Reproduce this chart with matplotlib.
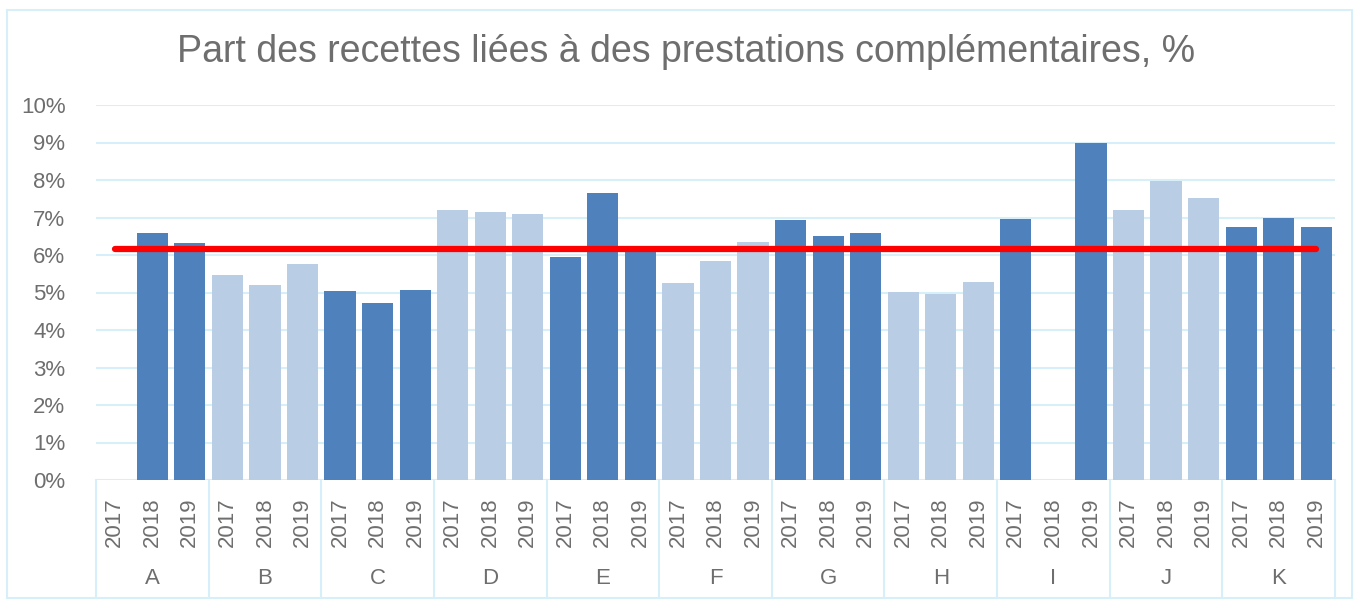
import numpy as np
import matplotlib
matplotlib.use('Agg')
import matplotlib.pyplot as plt
from matplotlib.patches import Rectangle

# Data (share of revenue, %)
groups = ['A', 'B', 'C', 'D', 'E', 'F', 'G', 'H', 'I', 'J', 'K']
years = ['2017', '2018', '2019']
values = [
    [np.nan, 6.60, 6.33],   # A
    [5.47, 5.21, 5.77],     # B
    [5.05, 4.73, 5.07],     # C
    [7.21, 7.15, 7.10],     # D
    [5.96, 7.66, 6.18],     # E
    [5.26, 5.85, 6.36],     # F
    [6.94, 6.50, 6.60],     # G
    [5.01, 4.97, 5.29],     # H
    [6.97, np.nan, 8.99],   # I
    [7.21, 7.98, 7.53],     # J
    [6.75, 6.99, 6.76],     # K
]
average = 6.16

dark = '#4F81BD'
light = '#B9CDE5'
grid_col = '#D7EFF9'
text_col = '#6E6E6E'

plt.rcParams['font.family'] = ['Liberation Sans', 'DejaVu Sans']

fig = plt.figure(figsize=(13.59, 6.01), dpi=100)
ax = fig.add_axes([96 / 1359, 1 - 480 / 601, (1335 - 96) / 1359, 375 / 601])

heights = np.array(values).ravel()
x = np.arange(len(heights))
colors = []
for g in range(len(groups)):
    colors += [dark if g % 2 == 0 else light] * len(years)

ax.bar(x, heights, width=0.83, color=colors, zorder=2)
ax.plot(x, np.full(len(x), average), color='#FF0000', lw=4.5,
        solid_capstyle='round', zorder=3)

ax.set_xlim(-0.5, len(x) - 0.5)
ax.set_ylim(0, 10)
ax.set_yticks(range(0, 11))
ax.set_yticklabels([f'{v}%' for v in range(0, 11)], fontsize=16, color=text_col)
ax.tick_params(axis='y', length=0, pad=22)
ax.set_xticks([])
ax.yaxis.grid(True, color=grid_col, lw=1.5, zorder=0)
for s in ax.spines.values():
    s.set_visible(False)

# multi-level x labels
tr = ax.get_xaxis_transform()
for i in x:
    ax.text(i, -0.112, years[i % 3], rotation=90, ha='center', va='center',
            fontsize=16, color=text_col, transform=tr)
for g, name in enumerate(groups):
    ax.text(g * 3 + 1, -0.262, name, ha='center', va='center',
            fontsize=16, color=text_col, transform=tr)
for b in range(len(groups) + 1):
    ax.plot([b * 3 - 0.5] * 2, [0, -0.31], color=grid_col, lw=1.5,
            transform=tr, clip_on=False)

fig.text(686 / 1359, 1 - 52 / 601, 'Part des recettes liées à des prestations complémentaires, %',
         ha='center', va='center', fontsize=27, color=text_col)

fig.patches.append(Rectangle((7 / 1359, 3 / 601), 1345 / 1359, 588 / 601,
                             transform=fig.transFigure, fill=False,
                             edgecolor=grid_col, lw=1.5))

plt.savefig('out.png', dpi=100)
